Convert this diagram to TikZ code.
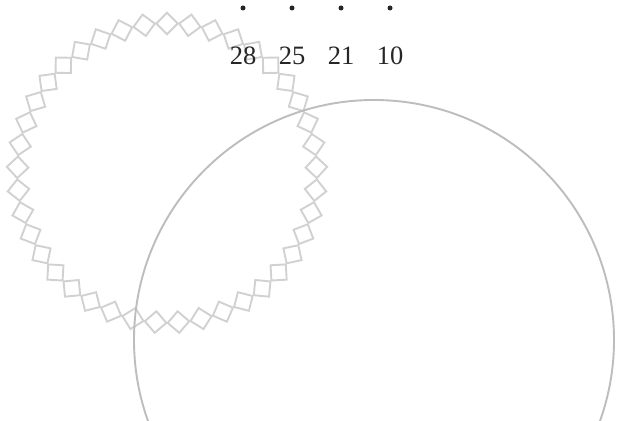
\documentclass[tikz,border=0pt]{standalone}
\usepackage{fontspec}
\setmainfont{Liberation Serif}
\begin{document}
\begin{tikzpicture}[x=1pt,y=1pt,
  sq/.style={draw=black!18, line width=1.9pt, line join=miter},
  bigcirc/.style={draw={rgb,255:red,188;green,188;blue,193}, line width=1.9pt},
  dotmark/.style={circle, fill=black!85, inner sep=0pt, minimum size=5pt},
  num/.style={font=\fontsize{26.5}{30}\selectfont, text=black!85, inner sep=0pt}]
\useasboundingbox (0,0) rectangle (620,420);
\clip (0,0) rectangle (620,420);
% chain of squares round a circle
\coordinate (cc) at (167,247);
\foreach \i in {0,...,40}{
  \draw[sq, shift={(cc)}, shift={(90+\i*360/41:149.5)}, rotate=90+\i*360/41]
    (10.8,0) -- (0,10.8) -- (-10.8,0) -- (0,-10.8) -- cycle;
}
% large circle
\coordinate (bc) at (374,80);
\draw[bigcirc] (bc) circle[radius=240];
% dots and numbers
\node[dotmark] (d1) at (243,412) {};
\node[dotmark] (d2) at (292,412) {};
\node[dotmark] (d3) at (341,412) {};
\node[dotmark] (d4) at (390,412) {};
\node[num] (n1) at (243,364) {28};
\node[num] (n2) at (292,364) {25};
\node[num] (n3) at (341,364) {21};
\node[num] (n4) at (390,364) {10};
\end{tikzpicture}
\end{document}
